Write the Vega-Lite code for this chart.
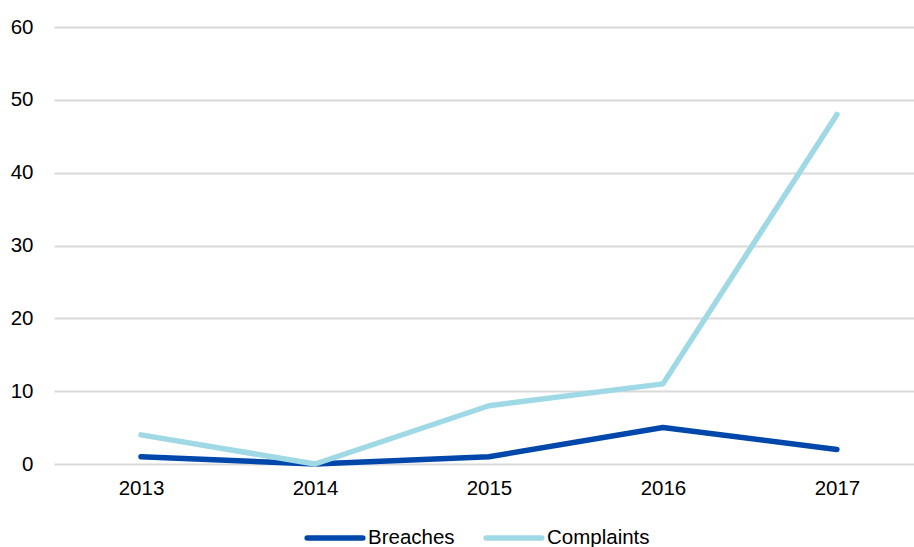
{
  "$schema": "https://vega.github.io/schema/vega-lite/v6.json",
  "autosize": "none",
  "padding": {"left": 54, "top": 27, "right": 0, "bottom": 83},
  "width": 860,
  "height": 437,
  "background": "white",
  "config": {
    "view": {"stroke": null},
    "font": "Liberation Sans",
    "axis": {"labelFont": "Liberation Sans", "labelFontSize": 20.5, "labelColor": "#000000"}
  },
  "data": {
    "values": [
      {"year": 2013, "series": "Breaches", "value": 1},
      {"year": 2014, "series": "Breaches", "value": 0},
      {"year": 2015, "series": "Breaches", "value": 1},
      {"year": 2016, "series": "Breaches", "value": 5},
      {"year": 2017, "series": "Breaches", "value": 2},
      {"year": 2013, "series": "Complaints", "value": 4},
      {"year": 2014, "series": "Complaints", "value": 0},
      {"year": 2015, "series": "Complaints", "value": 8},
      {"year": 2016, "series": "Complaints", "value": 11},
      {"year": 2017, "series": "Complaints", "value": 48}
    ]
  },
  "mark": {"type": "line", "strokeWidth": 5.5, "strokeCap": "round", "strokeJoin": "round"},
  "encoding": {
    "x": {
      "field": "year",
      "type": "quantitative",
      "scale": {"domain": [2012.5, 2017.443], "nice": false, "zero": false},
      "axis": {"title": null, "domain": false, "ticks": false, "grid": false, "labelAngle": 0, "labelPadding": 14.5, "values": [2013, 2014, 2015, 2016, 2017], "format": "d", "labelFlush": false}
    },
    "y": {
      "field": "value",
      "type": "quantitative",
      "scale": {"domain": [0, 60], "nice": false},
      "axis": {"title": null, "domain": false, "ticks": false, "values": [0, 10, 20, 30, 40, 50, 60], "gridColor": "#d9d9d9", "gridWidth": 2, "labelPadding": 21}
    },
    "color": {
      "field": "series",
      "type": "nominal",
      "scale": {"domain": ["Breaches", "Complaints"], "range": ["#0047ab", "#a0d9e6"]},
      "legend": {
        "title": null,
        "orient": "none",
        "legendX": 250,
        "legendY": 480,
        "direction": "horizontal",
        "symbolType": "stroke",
        "symbolSize": 3100,
        "symbolStrokeWidth": 5.5,
        "labelFontSize": 20.5,
        "labelFont": "Liberation Sans",
        "labelColor": "#000000",
        "labelOffset": 2,
        "columnPadding": 20,
        "encode": {"symbols": {"update": {"strokeCap": {"value": "round"}}}}
      }
    }
  }
}
